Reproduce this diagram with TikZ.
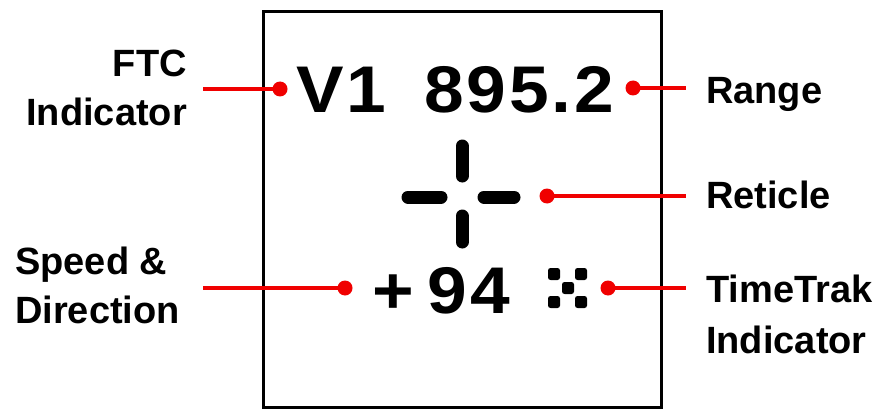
\documentclass[tikz,border=0pt]{standalone}
\usepackage{fontspec}
\setmainfont{Liberation Sans}
\newfontfamily\dispfont{Liberation Sans Bold}[FakeStretch=1.08,LetterSpace=4.5]
\usetikzlibrary{positioning}
\definecolor{hudRed}{HTML}{F00000}
\definecolor{hudInk}{HTML}{000000}

\begin{document}
\begin{tikzpicture}[
  x=1pt,y=-1pt,
  lbl/.style={font=\fontsize{38}{49}\selectfont\bfseries,inner sep=0pt},
  readout/.style={font=\dispfont\fontsize{66}{70}\selectfont,inner sep=0pt,anchor=base west},
  pindot/.style={circle,fill=hudRed,inner sep=0pt,minimum size=15},
  lead/.style={draw=hudRed,line width=4.5},
  hair/.style={draw=hudInk,line width=13,line cap=round},
  tick/.style={fill=hudInk,rounded corners=2.5,minimum size=12,inner sep=0pt}
]
  \useasboundingbox (0,0) rectangle (882,409);

  % display frame
  \node[draw=hudInk,line width=3,minimum width=398,minimum height=395,inner sep=0pt]
    (screen) at (462.5,209.5) {};

  % readouts
  \node[readout] (ftc) at (296,112) {V1};
  \node[readout] (range) at (424,112) {895.2};
  \node[readout] (speed) at (372,313) {+\hspace{14pt}94};

  % reticle
  \draw[hair] (462,146) -- (462,176);
  \draw[hair] (462,216) -- (462,242);
  \draw[hair] (408,197) -- (441,197);
  \draw[hair] (484,197) -- (514,197);

  % timetrak ticks
  \foreach \px/\py [count=\i] in {554/274,581/274,568/288,554/302,581/302}
    \node[tick] (t\i) at (\px,\py) {};

  % pins
  \node[pindot] (dFtc) at (280,89) {};
  \node[pindot] (dRange) at (633,88) {};
  \node[pindot] (dReticle) at (547,196) {};
  \node[pindot] (dSpeed) at (345,288) {};
  \node[pindot] (dTrak) at (608,288) {};

  \coordinate (eFtc) at (203,89);
  \coordinate (eRange) at (686,88);
  \coordinate (eReticle) at (686,196);
  \coordinate (eSpeed) at (203,288);
  \coordinate (eTrak) at (686,288);

  \draw[lead] (eFtc) -- (dFtc.center);
  \draw[lead] (dRange.center) -- (eRange);
  \draw[lead] (dReticle.center) -- (eReticle);
  \draw[lead] (eSpeed) -- (dSpeed.center);
  \draw[lead] (dTrak.center) -- (eTrak);

  % labels
  \node[lbl,anchor=base east,align=right] (lFtc) at (187,125) {FTC\\Indicator};
  \node[lbl,anchor=base west,align=left] (lSpeed) at (15,323) {Speed \&\\Direction};
  \node[lbl,anchor=base west] (lRange) at (706,103) {Range};
  \node[lbl,anchor=base west] (lReticle) at (706,208) {Reticle};
  \node[lbl,anchor=base west,align=left,font=\fontsize{38}{51}\selectfont\bfseries]
    (lTrak) at (706,353) {TimeTrak\\Indicator};
\end{tikzpicture}
\end{document}
